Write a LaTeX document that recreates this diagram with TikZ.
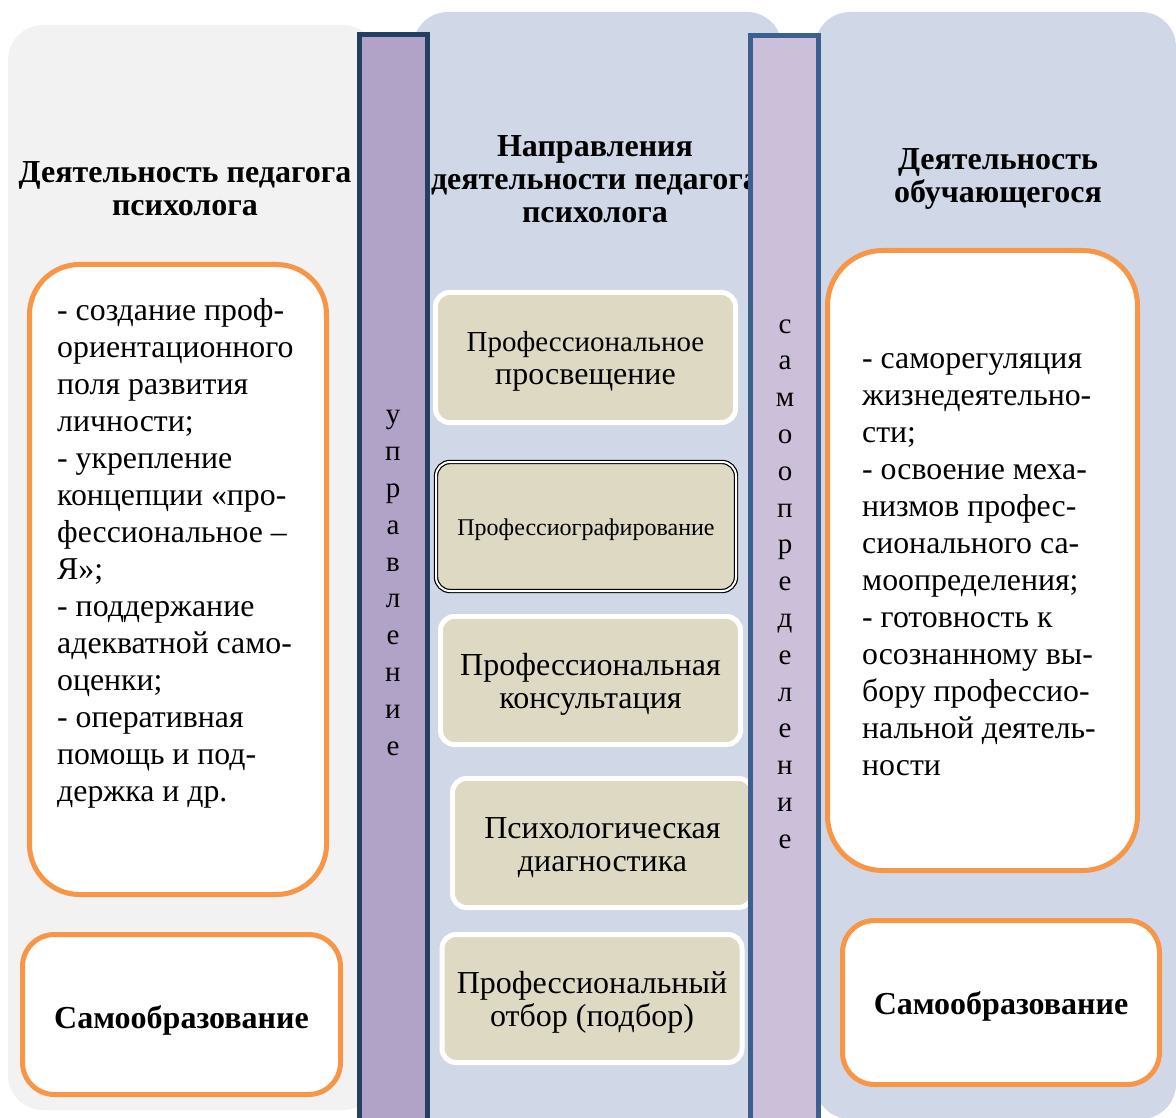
\documentclass[tikz,border=0pt]{standalone}
\usepackage{fontspec}
\setmainfont{Liberation Serif}
\definecolor{graybg}{HTML}{F2F2F2}
\definecolor{bluebg}{HTML}{D0D8E8}
\definecolor{barone}{HTML}{B1A2C8}
\definecolor{bartwo}{HTML}{CCBFDA}
\definecolor{navyone}{HTML}{243F60}
\definecolor{navytwo}{HTML}{3B5F8E}
\definecolor{orangeline}{HTML}{F79646}
\definecolor{sandfill}{HTML}{DDD9C3}
\begin{document}
\begin{tikzpicture}[x=1pt,y=-1pt,
    head/.style={font=\fontsize{32}{33}\selectfont\bfseries, align=center, inner sep=0},
    listtext/.style={font=\fontsize{31.8}{37}\selectfont, align=left, inner sep=0},
    whitebox/.style={draw=orangeline, line width=5, fill=white, inner sep=0},
    selfbox/.style={whitebox, rounded corners=32, font=\fontsize{32}{33}\selectfont\bfseries},
    sandbox/.style={draw=white, line width=5, fill=sandfill, rounded corners=14,
        minimum width=300, inner sep=0, align=center,
        font=\fontsize{32}{33}\selectfont,
        execute at begin node={\rule{0pt}{#1}}},
    sandbox/.default=63pt,
    barletters/.style={font=\fontsize{29}{36.8}\selectfont, align=center, inner sep=0}]
    \useasboundingbox (0,0) rectangle (1176,1118);
    \clip (0,0) rectangle (1176,1118);
    % background panels
    \fill [graybg, rounded corners=35] (8,25) rectangle (378,1110);
    \fill [bluebg, rounded corners=35] (413,12) rectangle (782,1160);
    \fill [bluebg, rounded corners=35] (815,12) rectangle (1176,1119);
    % headings
    \node [head] (headleft) at (185,189) {Деятельность педагога\\психолога};
    \node [head] (headmid) at (595,179.5) {Направления\\деятельности педагога\\психолога};
    \node [head] (headright) at (998,179) {Деятельность\\обучающегося};
    % directions
    \node [sandbox=60pt, minimum height=130] (enlight) at (585.5,357.5)
        {\fontsize{29}{32}\selectfont Профессиональное\\просвещение};
    \node [sandbox=22.5pt, draw=black, double=white, double distance=2, line width=1.2,
        minimum height=129] (graph) at (586,526.5)
        {\fontsize{24}{26}\selectfont Профессиографирование};
    \node [sandbox, minimum height=128] (consult) at (590.5,680.5)
        {Профессиональная\\консультация};
    \node [sandbox, minimum height=129] (diag) at (602.5,843)
        {Психологическая\\диагностика};
    \node [sandbox, minimum height=128] (select) at (592,998.5)
        {Профессиональный\\отбор (подбор)};
    % vertical bars
    \draw [line width=5, draw=navyone, fill=barone] (359.5,34.5) rectangle (427.5,1140);
    \draw [line width=5.5, draw=navytwo, fill=bartwo] (750.5,35.5) rectangle (818.5,1140);
    \node [barletters] (manage) at (393,583)
        {у\\п\\р\\а\\в\\л\\е\\н\\и\\е};
    \node [barletters] (selfdet) at (785,584)
        {с\\а\\м\\о\\о\\п\\р\\е\\д\\е\\л\\е\\н\\и\\е};
    % teacher side
    \node [whitebox, rounded corners=50, minimum width=297, minimum height=630] (leftbox) at (178,579.5) {};
    \node [listtext, anchor=north west] (leftlist) at (57,298)
        {- создание проф-\\ориентационного\\поля развития\\личности;\\- укрепление\\концепции «про-\\фессиональное –\\Я»;\\- поддержание\\адекватной само-\\оценки;\\- оперативная\\помощь и под-\\держка и др.};
    \node [selfbox, minimum width=318, minimum height=160] (leftself) at (181.5,1014.5)
        {\raisebox{-13.5pt}[0pt][0pt]{Самообразование}};
    % student side
    \node [whitebox, rounded corners=55, minimum width=310, minimum height=620] (rightbox) at (982.5,560.5) {};
    \node [listtext, anchor=north west] (rightlist) at (862,353)
        {- саморегуляция\\жизнедеятельно-\\сти;\\- освоение меха-\\низмов профес-\\сионального са-\\моопределения;\\- готовность к\\осознанному вы-\\бору профессио-\\нальной деятель-\\ности};
    \node [selfbox, minimum width=317, minimum height=164] (rightself) at (1001,1002.5)
        {\raisebox{-11.5pt}[0pt][0pt]{Самообразование}};
\end{tikzpicture}
\end{document}
